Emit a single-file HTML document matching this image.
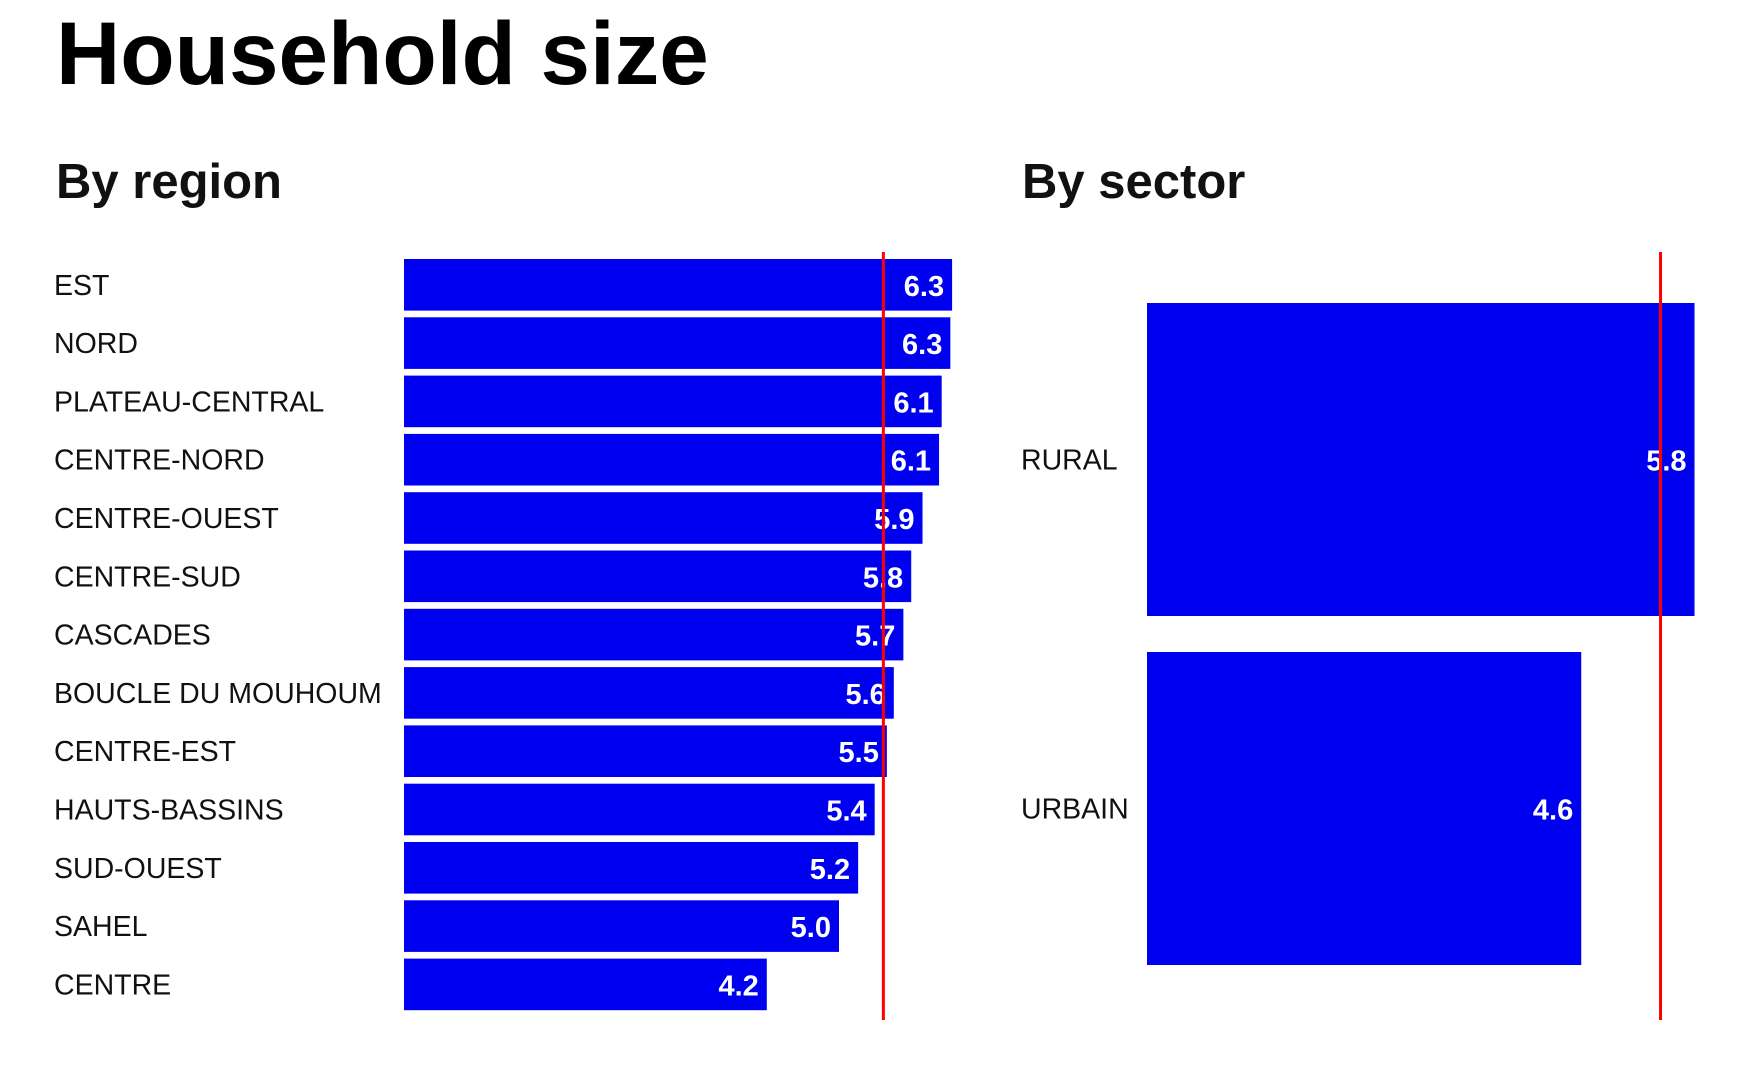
<!DOCTYPE html>
<html><head><meta charset="utf-8"><style>
html,body{margin:0;padding:0;background:#fff;}
svg{display:block;font-family:"Liberation Sans",sans-serif;}
</style></head><body>
<svg id="c" width="1750" height="1081" viewBox="0 0 1750 1081">
<text x="56" y="84" font-size="89" font-weight="bold" fill="#000">Household size</text>
<text x="56" y="198" font-size="49" font-weight="bold" fill="#111">By region</text>
<text x="1022" y="198" font-size="49" font-weight="bold" fill="#111">By sector</text>
<g id="left"></g><g id="right"></g>
</svg>
<script>
const regions=["EST","NORD","PLATEAU-CENTRAL","CENTRE-NORD","CENTRE-OUEST","CENTRE-SUD","CASCADES","BOUCLE DU MOUHOUM","CENTRE-EST","HAUTS-BASSINS","SUD-OUEST","SAHEL","CENTRE"];
const regionValues=[6.3,6.28,6.18,6.15,5.96,5.83,5.74,5.63,5.55,5.41,5.22,5.0,4.17];
const regionLabels=["6.3","6.3","6.1","6.1","5.9","5.8","5.7","5.6","5.5","5.4","5.2","5.0","4.2"];
const regionAvg=[5.51];
const sectors=["RURAL","URBAIN"];
const sectorValues=[5.8,4.6];
const sectorLabels=["5.8","4.6"];
const sectorAvg=[5.44];
const NS="http://www.w3.org/2000/svg";
function mk(parent,tag,attrs,txt){const e=document.createElementNS(NS,tag);for(const k in attrs)e.setAttribute(k,attrs[k]);if(txt!==undefined)e.textContent=txt;parent.appendChild(e);return e;}
const L=document.getElementById('left');
const lx0=404,lk=87.0,ly0=259,lpitch=58.3,lh=51.6;
const lxs=v=>lx0+v*lk;
regions.forEach((r,i)=>{
 const y=ly0+i*lpitch;
 const t=mk(L,'text',{x:54,y:y+lh/2+10,'font-size':28.5,fill:'#111'},r);
 
 
 const b=mk(L,'rect',{x:lx0,y:y,width:lxs(regionValues[i])-lx0,height:lh,fill:'#0000f0'});
 
 
 const v=mk(L,'text',{x:lxs(regionValues[i])-8,y:y+lh/2+11,'font-size':29,'font-weight':'bold',fill:'#fff','text-anchor':'end'},regionLabels[i]);
 
 
});
const la=mk(L,'line',{x1:lxs(regionAvg[0]),x2:lxs(regionAvg[0]),y1:252,y2:1020,stroke:'#f00','stroke-width':3});


const R=document.getElementById('right');
const rx0=1147,rk=94.4,rtops=[303,652],rh=313;
const rxs=v=>rx0+v*rk;
sectors.forEach((s,i)=>{
 const y=rtops[i];
 const t=mk(R,'text',{x:1021,y:y+rh/2+10,'font-size':28.5,fill:'#111'},s);
 
 
 const b=mk(R,'rect',{x:rx0,y:y,width:rxs(sectorValues[i])-rx0,height:rh,fill:'#0000f0'});
 
 
 const v=mk(R,'text',{x:rxs(sectorValues[i])-8,y:y+rh/2+11,'font-size':29,'font-weight':'bold',fill:'#fff','text-anchor':'end'},sectorLabels[i]);
 
 
});
const ra=mk(R,'line',{x1:rxs(sectorAvg[0]),x2:rxs(sectorAvg[0]),y1:252,y2:1020,stroke:'#f00','stroke-width':3});


</script>
</body></html>
